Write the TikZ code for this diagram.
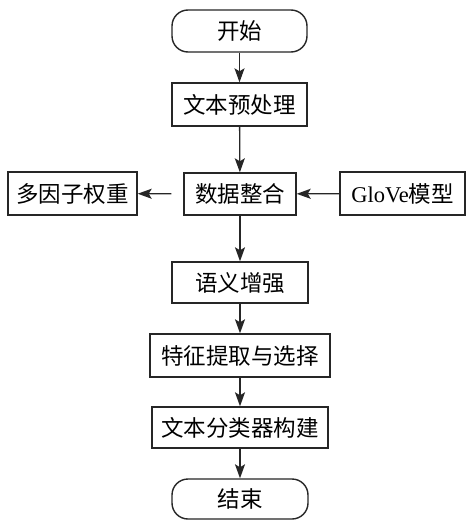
\documentclass[tikz,border=0pt]{standalone}
\usepackage{fontspec}
\setmainfont{Liberation Serif}
\newfontfamily\cjk{Noto Sans CJK SC}
\usetikzlibrary{arrows.meta}

\begin{document}
\begin{tikzpicture}[x=1pt,y=-1pt,
  stepbox/.style={draw=black!85,line width=1.4pt,inner sep=0pt,font=\cjk\fontsize{22.5}{27}\selectfont},
  termbox/.style={stepbox,rounded corners=16pt},
  flow/.style={draw=black!85,line width=1.3pt,-{Stealth[length=14pt,width=10pt,inset=3pt]}}]
\path[use as bounding box] (0,0) rectangle (468,522);
\path[fill=white,draw=none] (0,0) rectangle (468,522);
% main column
\node[termbox,minimum width=135pt,minimum height=42pt] (start) at (239.5,31) {开始};
\node[stepbox,minimum width=135pt,minimum height=43pt] (prep) at (239.5,104.5) {文本预处理};
\node[stepbox,minimum width=112pt,minimum height=42pt] (merge) at (240,194) {数据整合};
\node[stepbox,minimum width=136pt,minimum height=41pt] (semantic) at (240,282.5) {语义增强};
\node[stepbox,minimum width=180pt,minimum height=43pt] (feature) at (240,355.5) {特征提取与选择};
\node[stepbox,minimum width=176pt,minimum height=41pt] (classify) at (240,427.5) {文本分类器构建};
\node[termbox,minimum width=136pt,minimum height=40pt] (stop) at (240,499) {结束};
% side boxes
\node[stepbox,minimum width=129pt,minimum height=43pt] (weight) at (72.5,193.5) {多因子权重};
\node[stepbox,minimum width=125pt,minimum height=43pt] (glove) at (402.5,193.5) {{\rmfamily GloVe}模型};
% connectors
\draw[flow] (start) -- (prep);
\draw[flow] (prep) -- (merge);
\draw[flow] (merge) -- (semantic);
\draw[flow] (semantic) -- (feature);
\draw[flow] (feature) -- (classify);
\draw[flow] (classify) -- (stop);
\draw[flow,shorten <=12pt] (merge) -- (weight);
\draw[flow] (glove) -- (merge);
\end{tikzpicture}
\end{document}
